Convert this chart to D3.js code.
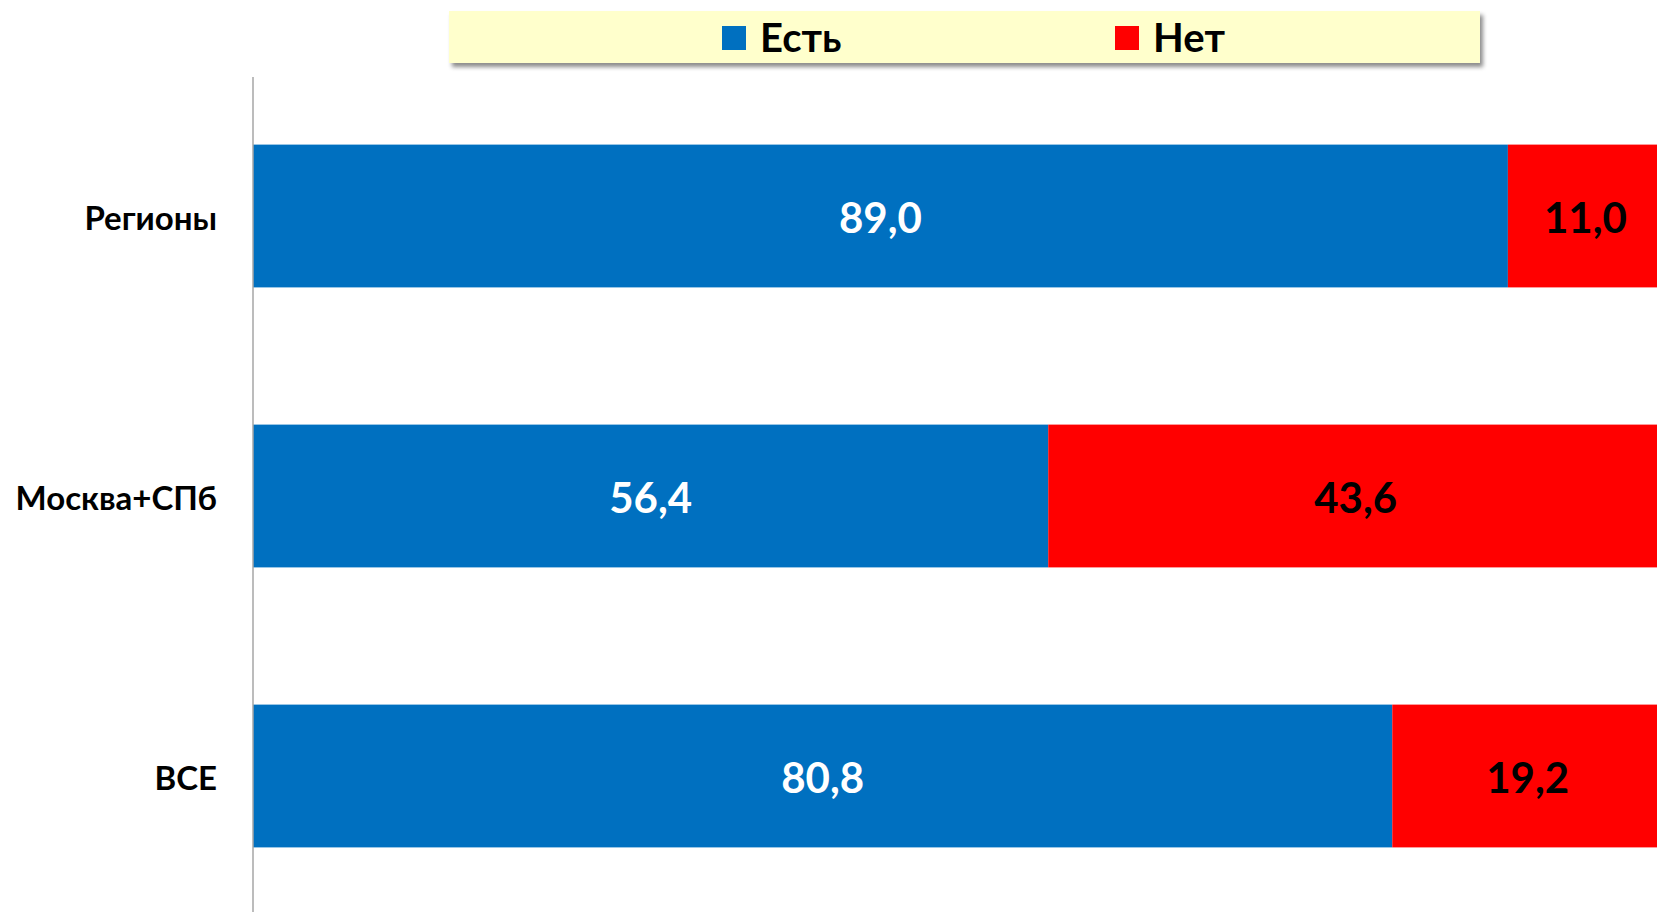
<!DOCTYPE html>
<html><head><meta charset="utf-8">
<script src="https://cdn.jsdelivr.net/npm/d3@7"></script>
<style>html,body{margin:0;padding:0;background:#fff;overflow:hidden}svg{display:block}</style>
</head><body>
<svg id="chart" width="1657" height="912"></svg>
<script>
const categories = ["Регионы", "Москва+СПб", "ВСЕ"];
const seriesNames = ["Есть", "Нет"];
const yes = [89.0, 56.4, 80.8];
const no = [11.0, 43.6, 19.2];
const colors = ["#0070C0", "#FF0000"];
const labelColors = ["#FFFFFF", "#000000"];

const svg = d3.select("#chart");
const font = "Lato, 'Open Sans', sans-serif";

const defs = svg.append("defs");
const f = defs.append("filter").attr("id","sh").attr("x","-5%").attr("y","-30%").attr("width","110%").attr("height","180%");
f.append("feDropShadow").attr("dx",3).attr("dy",4).attr("stdDeviation",2).attr("flood-color","#000").attr("flood-opacity",0.45);

const x = d3.scaleLinear().domain([0, 100]).range([253, 1663]);
const y = d3.scaleBand().domain(categories).range([76, 916]).paddingInner(0.49).paddingOuter(0.245);

const rows = categories.map((c, i) => ({cat: c, vals: [yes[i], no[i]]}));

// bars
rows.forEach(r => {
  let acc = 0;
  r.vals.forEach((v, s) => {
    svg.append("rect")
      .attr("x", x(acc)).attr("y", y(r.cat))
      .attr("width", x(acc + v) - x(acc)).attr("height", y.bandwidth())
      .attr("fill", colors[s]);
    svg.append("text")
      .attr("x", (x(acc) + x(acc + v)) / 2)
      .attr("y", y(r.cat) + y.bandwidth() / 2)
      .attr("dy", "0.4em")
      .attr("text-anchor", "middle")
      .attr("font-family", font).attr("font-weight", 700).attr("font-size", 42)
      .attr("fill", labelColors[s])
      .text(d3.format(".1f")(v).replace(".", ","));
    acc += v;
  });
});

// axis
const yAxis = d3.axisLeft(y).tickSize(0).tickPadding(36);
const ag = svg.append("g").attr("transform", `translate(${x(0)},0)`).call(yAxis);
ag.select(".domain").attr("stroke", "#A6A6A6").attr("stroke-width", 1.5).attr("d", "M0,77V912");
ag.selectAll("text").attr("font-family", font).attr("font-weight", 700).attr("font-size", 33).attr("fill", "#000").attr("dy", "0.42em");

// legend
const lg = svg.append("g");
lg.append("rect").attr("x", 449).attr("y", 11).attr("width", 1031).attr("height", 52)
  .attr("fill", "#FFFFCC").attr("filter", "url(#sh)");
const legX = [722, 1115];
seriesNames.forEach((n, i) => {
  lg.append("rect").attr("x", legX[i]).attr("y", 26).attr("width", 24).attr("height", 24).attr("fill", colors[i]);
  lg.append("text").attr("x", legX[i] + 38).attr("y", 38).attr("dy", "0.36em")
    .attr("font-family", font).attr("font-weight", 700).attr("font-size", 40)
    .attr("fill", "#000").text(n);
});
</script>
</body></html>
